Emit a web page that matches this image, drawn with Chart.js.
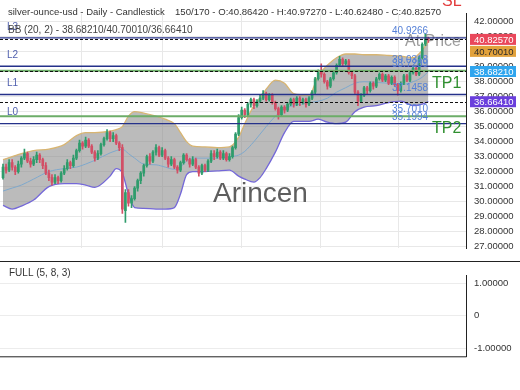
<!DOCTYPE html>
<html lang="en">
<head>
<meta charset="UTF-8">
<title>silver-ounce-usd - Daily - Candlestick</title>
<script src="https://cdn.jsdelivr.net/npm/chart.js"></script>
<style>
  body { margin: 0; background: #fff; }
  #wrap { position: relative; width: 520px; height: 390px; }
  #main { position: absolute; left: 0; top: 0; }
  #osc { position: absolute; left: 0; top: 262px; }
</style>
</head>
<body>
<div id="wrap">
  <canvas id="main" width="520" height="262"></canvas>
  <canvas id="osc" width="520" height="108"></canvas>
</div>

<script>
// candles, one per day
const opens = [31.6,32.3,32.1,32.6,32.3,32.0,32.5,32.9,33.2,32.7,
  32.5,32.8,33.1,32.8,32.4,31.9,31.6,31.3,31.6,31.4,
  31.9,32.2,32.6,32.4,32.9,33.4,33.9,33.7,34.1,33.7,
  33.3,32.9,33.2,33.8,34.2,34.6,34.2,34.4,33.9,33.6,
  29.4,30.6,29.9,30.2,30.9,31.4,31.9,32.4,33.0,32.7,
  33.3,33.6,33.1,33.4,32.9,32.5,32.8,32.3,32.1,32.6,
  33.1,32.8,32.5,32.8,32.3,31.9,32.4,32.1,32.7,33.2,
  33.0,33.3,32.9,33.2,32.8,33.0,33.6,34.5,35.6,36.1,
  35.8,36.5,36.8,36.4,36.7,36.9,37.2,36.8,37.1,36.6,
  36.2,35.8,36.3,36.1,36.5,36.8,36.5,36.9,36.6,36.8,
  36.5,36.9,37.3,38.2,38.7,38.5,38.0,37.7,38.2,38.6,
  39.1,39.5,39.2,39.4,38.6,38.4,37.3,36.7,37.1,37.6,
  37.4,37.9,37.7,38.2,38.5,38.1,38.4,37.9,38.3,37.8,
  37.4,37.9,38.4,38.1,38.6,38.9,38.5,39.6,40.5,40.8642];
const highs = [32.5,32.5,32.8,32.8,32.4,32.7,33.0,33.5,33.3,32.9,
  33.0,33.3,33.2,32.9,32.6,32.1,31.8,31.8,31.7,32.0,
  32.4,32.8,32.7,33.1,33.5,34.1,34.0,34.3,34.2,33.8,
  33.4,33.4,33.9,34.3,34.8,34.7,34.6,34.5,34.0,33.8,
  30.8,30.8,30.4,31.0,31.5,32.0,32.5,33.1,33.2,33.4,
  33.8,33.7,33.6,33.5,33.0,33.0,32.9,32.4,32.7,33.2,
  33.2,32.9,33.0,32.9,32.4,32.5,32.5,32.8,33.4,33.4,
  33.5,33.4,33.4,33.3,33.2,33.7,34.6,35.8,36.3,36.2,
  36.6,36.9,36.9,36.8,37.1,37.4,37.3,37.2,37.2,36.7,
  36.3,36.4,36.4,36.6,36.9,36.9,37.0,37.0,36.9,36.9,
  37.0,37.4,38.3,38.8,39.2,38.6,38.1,38.3,38.7,39.2,
  39.7,39.6,39.5,39.5,38.7,38.5,37.4,37.2,37.7,37.7,
  38.0,38.0,38.3,38.6,38.6,38.5,38.5,38.4,38.4,37.9,
  38.0,38.5,38.5,38.7,39.0,39.0,39.7,40.6,41.2,40.9727];
const lows = [31.5,31.9,32.0,32.1,31.8,31.9,32.3,32.8,32.6,32.3,
  32.4,32.6,32.6,32.2,31.8,31.4,31.1,31.2,31.2,31.3,
  31.8,32.1,32.2,32.3,32.8,33.3,33.5,33.6,33.6,33.2,
  32.7,32.8,33.1,33.7,34.1,34.0,34.0,33.8,33.4,29.2,
  28.6,29.7,29.6,30.1,30.7,31.2,31.7,32.3,32.5,32.6,
  33.1,33.0,33.0,32.8,32.3,32.4,32.2,31.9,32.0,32.5,
  32.7,32.3,32.4,32.2,31.7,31.8,32.0,32.0,32.6,32.8,
  32.9,32.8,32.8,32.7,32.7,32.9,33.5,34.4,35.5,35.6,
  35.7,36.3,36.2,36.3,36.6,36.8,36.7,36.7,36.5,36.1,
  35.5,35.7,35.9,36.0,36.4,36.3,36.4,36.4,36.5,36.3,
  36.4,36.8,37.2,38.1,38.3,37.9,37.5,37.6,38.1,38.5,
  39.0,39.0,39.1,38.5,38.2,37.2,36.4,36.6,37.0,37.2,
  37.3,37.5,37.6,38.1,38.0,38.0,37.8,37.8,37.7,37.1,
  37.3,37.8,38.0,38.0,38.5,38.4,38.4,39.5,40.4,40.6248];
const closes = [32.3,32.1,32.6,32.3,32.0,32.5,32.9,33.2,32.7,32.5,
  32.8,33.1,32.8,32.4,31.9,31.6,31.3,31.6,31.4,31.9,
  32.2,32.6,32.4,32.9,33.4,33.9,33.7,34.1,33.7,33.3,
  32.9,33.2,33.8,34.2,34.6,34.2,34.4,33.9,33.6,29.5,
  30.6,29.9,30.2,30.9,31.4,31.9,32.4,33.0,32.7,33.3,
  33.6,33.1,33.4,32.9,32.5,32.8,32.3,32.1,32.6,33.1,
  32.8,32.5,32.8,32.3,31.9,32.4,32.1,32.7,33.2,33.0,
  33.3,32.9,33.2,32.8,33.0,33.6,34.5,35.6,36.1,35.8,
  36.5,36.8,36.4,36.7,36.9,37.2,36.8,37.1,36.6,36.2,
  35.8,36.3,36.1,36.5,36.8,36.5,36.9,36.6,36.8,36.5,
  36.9,37.3,38.2,38.7,38.5,38.0,37.7,38.2,38.6,39.1,
  39.5,39.2,39.4,38.6,38.4,37.3,36.7,37.1,37.6,37.4,
  37.9,37.7,38.2,38.5,38.1,38.4,37.9,38.3,37.8,37.4,
  37.9,38.4,38.1,38.6,38.9,38.5,39.6,40.5,40.86,40.8257];

// bollinger bands (20, 2), sampled at these candle indexes
const bbX =      [0,3,6,10,15,20,24,27,30,35,37,39,41,43,46,50,53,56,58,60,62,66,70,74,77,79,82,84,86,89,92,95,100,103,106,109,112,115,118,122,126,130,134,137,139];
const bbUpper =  [32.8,33.0,33.2,33.4,33.5,33.8,34.4,34.6,34.6,34.7,34.8,35.0,35.7,36.0,35.9,35.7,35.5,35.2,34.6,34.0,33.7,33.65,33.6,33.65,34.3,35.2,36.4,36.9,37.5,38.1,37.9,37.2,37.1,38.4,39.1,39.6,39.85,39.85,39.8,39.8,39.75,39.7,39.6,40.1,40.7001];
const bbMiddle = [30.7,30.9,31.1,31.5,32.0,32.2,32.3,32.5,32.75,33.25,33.4,33.5,33.2,32.9,32.5,32.45,32.3,32.15,32.3,32.7,32.9,32.9,32.9,33.0,33.1,33.35,34.0,34.5,35.0,35.7,36.2,36.4,36.6,36.7,36.9,37.3,37.6,37.9,38.0,37.95,37.9,37.8,38.0,38.3,38.6821];
const bbLower =  [29.75,29.5,29.7,30.1,31.0,31.2,31.2,31.1,30.95,31.7,32.2,31.9,30.5,29.6,29.55,29.5,29.5,29.6,30.5,31.8,32.0,32.0,32.05,32.1,31.7,31.5,31.3,31.6,32.2,33.3,34.6,35.35,35.35,35.5,35.3,35.2,35.3,36.0,36.3,36.4,36.6,36.7,36.4,36.5,36.6641];

// axes
const yTicks = [27,28,29,30,31,32,33,34,35,36,37,38,39,40,41,42];
const gridX = [25.8, 52, 77.8, 103.6, 129.4];
const oscTicks = [-1, 0, 1];

// horizontal levels
const levelNames = ['L3', 'L2', 'L1', 'L0'];
const levelValues = [40.9266, 39.0318, 37.1458, 35.1994];
const targetNames = ['TP1', 'TP2'];
const targetValues = [38.7289, 35.7010];
const dashedValues = [40.8257, 38.6821, 36.6641];
const tagValues = [40.8257, 40.7001, 38.6821, 36.6641];

const FONT = '"Liberation Sans", Arial, sans-serif';
Chart.defaults.font.family = FONT;

const candleColors = closes.map((c, i) => c >= opens[i] ? '#2f9c6c' : '#d24f66');

const overlay = {
  id: 'overlay',
  beforeDatasetsDraw(chart) {
    const ctx = chart.ctx;
    ctx.save();
    ctx.fillStyle = '#5e5e5e';
    ctx.font = '28px ' + FONT;
    ctx.textBaseline = 'alphabetic';
    ctx.fillText('Arincen', 213, 202);
    ctx.fillStyle = '#9c9c9c';
    ctx.font = '16px ' + FONT;
    ctx.textBaseline = 'middle';
    ctx.fillText('At Price', 405, 42);
    ctx.restore();
  },
  afterDraw(chart) {
    const { ctx, chartArea: a, scales: { y } } = chart;
    ctx.save();
    ctx.beginPath();
    ctx.rect(a.left, a.top, a.right - a.left, a.bottom - a.top);
    ctx.clip();

    // green targets
    ctx.strokeStyle = '#6cad68';
    ctx.lineWidth = 2;
    targetValues.forEach(v => {
      const py = y.getPixelForValue(v);
      ctx.beginPath(); ctx.moveTo(a.left, py); ctx.lineTo(a.right, py); ctx.stroke();
    });
    // dashed
    ctx.strokeStyle = '#111';
    ctx.lineWidth = 1;
    ctx.setLineDash([3, 2]);
    dashedValues.forEach(v => {
      const py = Math.round(y.getPixelForValue(v)) + 0.5;
      ctx.beginPath(); ctx.moveTo(a.left, py); ctx.lineTo(a.right, py); ctx.stroke();
    });
    ctx.setLineDash([]);
    // navy levels
    ctx.strokeStyle = '#25318a';
    ctx.lineWidth = 1.4;
    levelValues.forEach(v => {
      const py = y.getPixelForValue(v);
      ctx.beginPath(); ctx.moveTo(a.left, py); ctx.lineTo(a.right, py); ctx.stroke();
    });

    ctx.font = '10px ' + FONT;
    ctx.textBaseline = 'middle';
    levelValues.forEach((v, i) => {
      const py = y.getPixelForValue(v);
      ctx.fillStyle = '#4f5fae';
      ctx.fillText(levelNames[i], 7, py - 11);
      ctx.fillStyle = '#5580d8';
      ctx.fillText(v.toFixed(4), 392, py - 6.5);
    });
    targetValues.forEach(v => {
      ctx.fillStyle = '#5580d8';
      ctx.fillText(v.toFixed(4), 392, y.getPixelForValue(v) - 6.5);
    });
    ctx.font = '16px ' + FONT;
    ctx.fillStyle = '#2f8f2f';
    targetValues.forEach((v, i) => {
      ctx.fillText(targetNames[i], 432, y.getPixelForValue(v) + 12.5);
    });
    ctx.restore();

    // header texts
    ctx.save();
    ctx.font = '9.5px ' + FONT;
    ctx.fillStyle = '#333';
    ctx.textBaseline = 'middle';
    ctx.fillText('silver-ounce-usd - Daily - Candlestick', 8, 12.5);
    ctx.font = '9.6px ' + FONT;
    ctx.fillText('150/170 - O:40.86420 - H:40.97270 - L:40.62480 - C:40.82570', 175, 12.5);
    ctx.font = '10px ' + FONT;
    ctx.fillStyle = '#444';
    ctx.fillText('BB (20, 2) - 38.68210/40.70010/36.66410', 8, 30);
    ctx.fillStyle = '#e23b3b';
    ctx.font = '16px ' + FONT;
    ctx.textBaseline = 'alphabetic';
    ctx.fillText('SL', 442, 6);

    // price tags on the axis
    const tagFill = ['#e9485b', '#e2a23c', '#2fa5ee', '#6a3fdc'];
    const tagInk = ['#fff', '#2a2a2a', '#fff', '#fff'];
    ctx.font = '9.5px ' + FONT;
    ctx.textBaseline = 'middle';
    let prev = -100;
    tagValues.forEach((v, i) => {
      let py = y.getPixelForValue(v);
      if (py - prev < 12) py = prev + 12;
      prev = py;
      ctx.fillStyle = tagFill[i];
      ctx.fillRect(470, py - 5.5, 46, 11);
      ctx.fillStyle = tagInk[i];
      ctx.fillText(v.toFixed(5), 474, py + 0.5);
    });

    // panel separator
    ctx.strokeStyle = '#222';
    ctx.lineWidth = 1;
    ctx.beginPath(); ctx.moveTo(0, 261.5); ctx.lineTo(520, 261.5); ctx.stroke();
    ctx.restore();
  }
};

new Chart(document.getElementById('main'), {
  type: 'bar',
  data: {
    datasets: [
      { type: 'line', data: bbX.map((x, i) => ({ x, y: bbUpper[i] })), borderColor: '#d8b572', borderWidth: 1.3,
        pointRadius: 0, cubicInterpolationMode: 'monotone', fill: 2, backgroundColor: 'rgba(135,135,135,0.57)', order: 5 },
      { type: 'line', data: bbX.map((x, i) => ({ x, y: bbMiddle[i] })), borderColor: '#7ea8cc', borderWidth: 1,
        pointRadius: 0, cubicInterpolationMode: 'monotone', fill: false, order: 4 },
      { type: 'line', data: bbX.map((x, i) => ({ x, y: bbLower[i] })), borderColor: '#7468d8', borderWidth: 1.3,
        pointRadius: 0, cubicInterpolationMode: 'monotone', fill: false, order: 4 },
      { type: 'bar', data: highs.map((h, i) => ({ x: i, y: [lows[i], h] })), backgroundColor: candleColors,
        barThickness: 1, grouped: false, order: 2 },
      { type: 'bar', data: opens.map((o, i) => ({ x: i, y: [o, closes[i]] })), backgroundColor: candleColors,
        barThickness: 2, minBarLength: 1, grouped: false, order: 1 }
    ]
  },
  options: {
    responsive: false,
    animation: false,
    layout: { padding: { bottom: 1 } },
    plugins: { legend: { display: false }, tooltip: { enabled: false } },
    scales: {
      x: {
        type: 'linear', min: -0.98, max: 151.3, offset: false,
        afterBuildTicks: s => { s.ticks = gridX.map(v => ({ value: v })); },
        afterFit: s => { s.height = 0; },
        grid: { color: '#e8e8e8', drawTicks: false, offset: false },
        border: { display: false },
        ticks: { display: false }
      },
      y: {
        position: 'right', min: 26.88, max: 42.54,
        afterBuildTicks: s => { s.ticks = yTicks.map(v => ({ value: v })); },
        afterFit: s => { s.width = 54; },
        grid: { color: '#e8e8e8', drawTicks: false },
        border: { color: '#222', width: 1 },
        ticks: { padding: 8, color: '#333', font: { size: 9.5 }, callback: v => v.toFixed(5) }
      }
    }
  },
  plugins: [overlay]
});

const oscOverlay = {
  id: 'oscOverlay',
  afterDraw(chart) {
    const { ctx, chartArea: a } = chart;
    ctx.save();
    ctx.strokeStyle = '#222';
    ctx.lineWidth = 1;
    ctx.beginPath(); ctx.moveTo(0, a.bottom + 0.5); ctx.lineTo(a.right + 0.5, a.bottom + 0.5); ctx.stroke();
    ctx.font = '10px ' + FONT;
    ctx.fillStyle = '#333';
    ctx.textBaseline = 'middle';
    ctx.fillText('FULL (5, 8, 3)', 9, 11);
    ctx.restore();
  }
};

new Chart(document.getElementById('osc'), {
  type: 'line',
  data: { datasets: [{ data: [], pointRadius: 0 }] },
  options: {
    responsive: false,
    animation: false,
    layout: { padding: { bottom: 1 } },
    plugins: { legend: { display: false }, tooltip: { enabled: false } },
    scales: {
      x: { type: 'linear', min: 0, max: 1, display: false },
      y: {
        position: 'right', min: -1.256, max: 1.233,
        afterBuildTicks: s => { s.ticks = oscTicks.map(v => ({ value: v })); },
        afterFit: s => { s.width = 54; },
        grid: { color: '#ececec', drawTicks: false },
        border: { color: '#222', width: 1 },
        ticks: { padding: 8, color: '#333', font: { size: 9.5 }, callback: v => v === 0 ? '0' : v.toFixed(5) }
      }
    }
  },
  plugins: [oscOverlay]
});
</script>
</body>
</html>
